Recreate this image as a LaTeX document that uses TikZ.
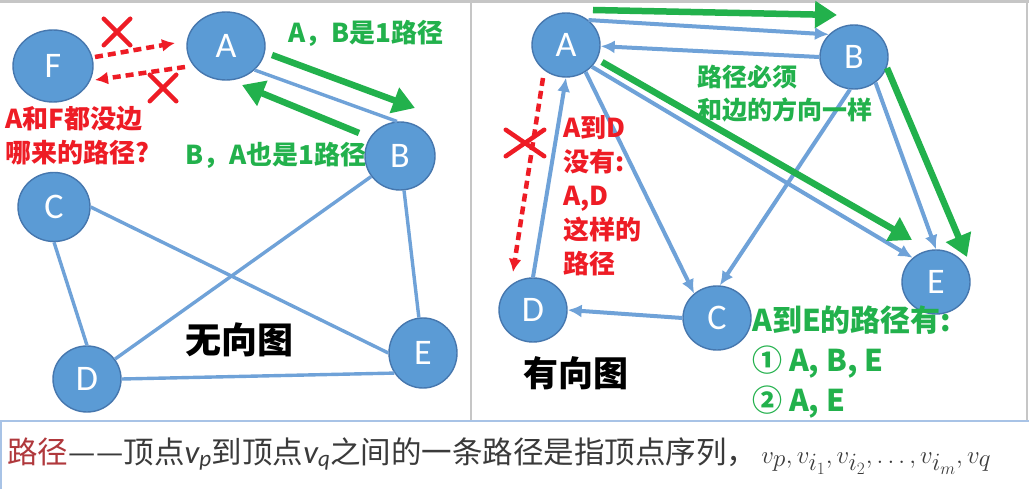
\documentclass[tikz,border=0pt]{standalone}
\usepackage{fontspec}
\setmainfont{Carlito}
\newfontfamily\cjk{Noto Sans CJK SC}
\usetikzlibrary{shapes.geometric,shapes.misc,arrows.meta}
\definecolor{nodeblue}{HTML}{5B9BD5}
\definecolor{nodeline}{HTML}{4677AE}
\definecolor{edgeblue}{HTML}{6FA2D8}
\definecolor{pgreen}{HTML}{22B14C}
\definecolor{pred}{HTML}{EE1C25}
\definecolor{darkred}{HTML}{B0383C}
\definecolor{textgray}{HTML}{3A3A3A}
\definecolor{framegray}{HTML}{C6C6C6}
\definecolor{frameblue}{HTML}{A8C3E6}
\newcommand\vsub[1]{{\rmfamily\itshape\fontsize{33}{33}\selectfont v\textsubscript{#1}}}
\tikzset{
  vert/.style={ellipse, fill=nodeblue, draw=nodeline, line width=1.4pt, text=white,
    font=\fontsize{36}{36}\selectfont, inner sep=0pt, minimum width=68pt, minimum height=66pt},
  uedge/.style={draw=edgeblue, line width=3.4pt},
  dedge/.style={draw=edgeblue, line width=4pt, -{Latex[length=14pt,width=13pt]}},
  walk/.style={draw=pgreen, line width=6.5pt, -{Triangle[length=22pt,width=26pt]}},
  nowalk/.style={draw=pred, line width=4.5pt, dash pattern=on 8pt off 5pt, -{Latex[length=13pt,width=13pt]}},
  nope/.style={cross out, draw=pred, line width=4.5pt, line cap=round, minimum size=20pt, inner sep=0pt},
  note/.style={font=\cjk\bfseries\fontsize{26}{34}\selectfont, align=left, anchor=west, inner sep=0pt},
  bigword/.style={font=\cjk\bfseries\fontsize{35}{35}\selectfont, anchor=west, inner sep=0pt},
}
\begin{document}
\begin{tikzpicture}[x=1pt, y=-1pt]
\useasboundingbox (0,0) rectangle (1029,489);
\fill[white] (0,0) rectangle (1029,489);
\draw[framegray, line width=3pt] (0,1.5) -- (1029,1.5);
\draw[framegray, line width=2pt] (471,0) -- (471,420);
\draw[framegray, line width=2pt] (1027,0) -- (1027,420);
\draw[frameblue, line width=2.5pt] (0,421) -- (1029,421);
\draw[frameblue, line width=1.5pt] (1,421) -- (1,489);

\node[vert, minimum width=80pt, minimum height=72pt] (uF) at (53,66) {F};
\node[vert, minimum width=78pt, minimum height=68pt] (uA) at (226,46) {A};
\node[vert, minimum width=70pt, minimum height=68pt] (uB) at (400,156) {B};
\node[vert, minimum width=72pt, minimum height=69pt] (uC) at (54,207) {C};
\node[vert] (uD) at (87,379) {D};
\node[vert, minimum height=70pt] (uE) at (423,353) {E};

\draw[uedge] (uA.-40) -- (uB.95);
\draw[uedge] (uB) -- (uD);
\draw[uedge] (uB) -- (uE);
\draw[uedge] (uC.south) -- (uD.north);
\draw[uedge] (uC.east) -- (uE.west);
\draw[uedge] (uD.east) -- (uE.215);

\coordinate (fa1) at (95,57);
\coordinate (fa2) at (175,43);
\coordinate (af1) at (185,67);
\coordinate (af2) at (95,80);
\draw[nowalk] (fa1) -- (fa2);
\draw[nowalk] (af1) -- (af2);
\node[nope, minimum size=22pt] (x1) at (117,32) {};
\node[nope, minimum size=22pt] (x2) at (163,88) {};

\coordinate (ab1) at (272,55);
\coordinate (ab2) at (415,108);
\coordinate (ba1) at (359,133);
\coordinate (ba2) at (242,85);
\draw[walk] (ab1) -- (ab2);
\draw[walk] (ba1) -- (ba2);

\node[note, text=pgreen] (abtxt) at (288,33) {A，B是1路径};
\node[note, text=pgreen] (batxt) at (185,155) {B，A也是1路径};
\node[note, text=pred] (aftxt) at (5,135.5) {A和F都没边\\哪来的路径?};
\node[bigword, font=\cjk\bfseries\fontsize{36}{36}\selectfont] (undir) at (185,340) {无向图};

\node[vert, minimum height=64pt] (dA) at (566,45) {A};
\node[vert, minimum height=64pt] (dB) at (854,57) {B};
\node[vert, minimum height=64pt] (dC) at (717,318) {C};
\node[vert, minimum height=64pt] (dD) at (533,310) {D};
\node[vert, minimum height=64pt] (dE) at (936,282) {E};

\draw[dedge] (dA.48) -- (dB.138);
\draw[dedge] (dB.180) -- (dA.-2);
\draw[dedge] (dA.-54) -- (dC.133);
\draw[dedge] (dA.-40) -- (dE.134);
\draw[dedge] (dB.-97) -- (dC.85);
\draw[dedge] (dB.-50) -- (dE.90);
\draw[dedge] (dC.180) -- (dD.0);
\draw[dedge] (dD.north) -- (dA.south);

\coordinate (top1) at (593,10);
\coordinate (top2) at (837,15);
\coordinate (ae1) at (602,62);
\coordinate (ae2) at (912,240);
\coordinate (be1) at (887,68);
\coordinate (be2) at (967,257);
\draw[walk] (top1) -- (top2);
\draw[walk] (ae1) -- (ae2);
\draw[walk] (be1) -- (be2);

\coordinate (ad1) at (543,78);
\coordinate (ad2) at (513,272);
\draw[nowalk] (ad1) -- (ad2);
\node[nope, minimum width=34pt, minimum height=22pt] (x3) at (525,143) {};

\node[note, text=pgreen, font=\cjk\bfseries\fontsize{25}{33}\selectfont] (dirtxt) at (697,93.5) {路径必须\\和边的方向一样};
\node[note, text=pred] (adtxt) at (563,195.5) {A到D\\没有:\\A,D\\这样的\\路径};
\node[note, text=pgreen, font=\cjk\bfseries\fontsize{30}{40}\selectfont] (aetxt) at (752,362) {A到E的路径有:\\① A, B, E\\② A, E};
\node[bigword] (dir) at (523,373) {有向图};

\node[anchor=base west, inner sep=0pt, text=textgray, font=\cjk\fontsize{30.5}{30.5}\selectfont] (defn) at (7,463)
  {\textcolor{darkred}{路径}—\kern1pt—顶点\vsub{p}到顶点\vsub{q}之间的一条路径是指顶点序列，\kern4pt{\fontsize{38}{38}\selectfont$v_p, v_{i_1}, v_{i_2}, \ldots, v_{i_m}, v_q$}};
\end{tikzpicture}
\end{document}
